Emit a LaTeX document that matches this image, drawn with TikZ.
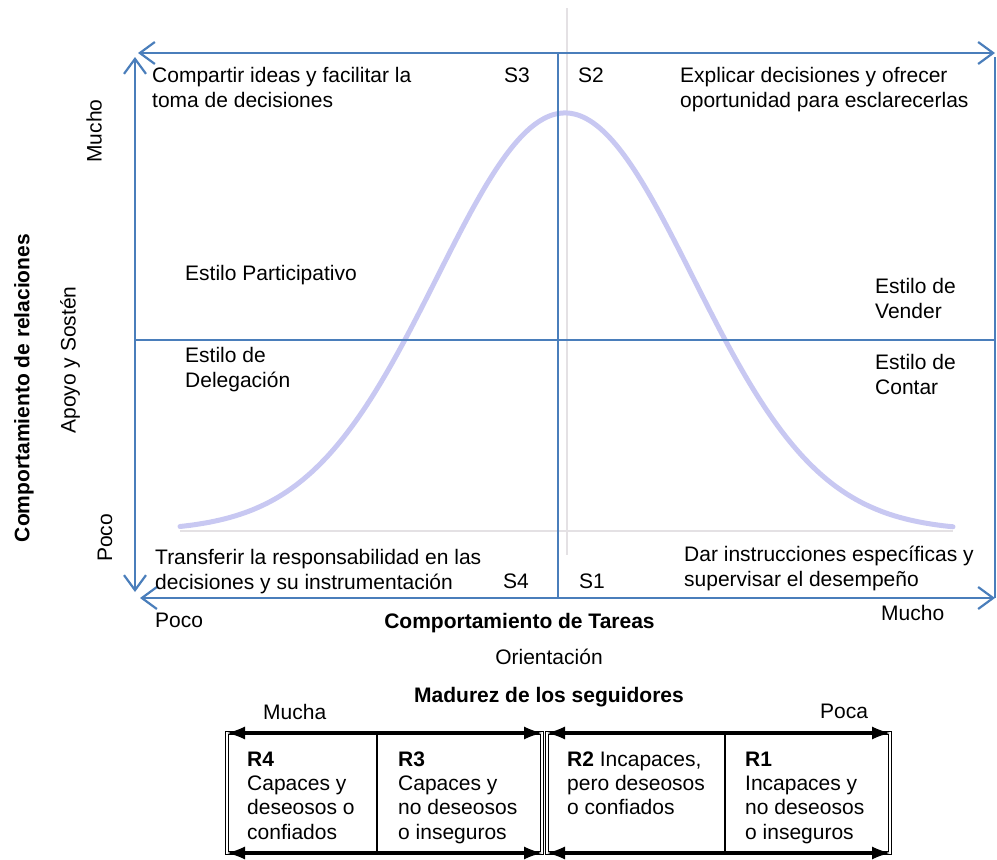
\documentclass[tikz,border=0pt]{standalone}
\usepackage{fontspec}
\setmainfont{Liberation Sans}
\usetikzlibrary{arrows.meta}
\definecolor{axisblue}{RGB}{74,126,187}
\definecolor{bellc}{RGB}{200,200,242}
\definecolor{guide}{RGB}{228,225,228}
\begin{document}
\begin{tikzpicture}[x=1pt,y=-1pt,
  txt/.style={inner sep=0pt, anchor=base west, align=left, font=\fontsize{21}{25}\selectfont},
  ctxt/.style={inner sep=0pt, anchor=base, font=\fontsize{21}{25}\selectfont},
  vtxt/.style={inner sep=0pt, rotate=90, anchor=center, font=\fontsize{21}{25}\selectfont},
  cell/.style={inner sep=0pt, anchor=base west, align=left, font=\fontsize{21}{24.3}\selectfont},
  axis/.style={draw=axisblue, line width=2.2pt},
  biaxis/.style={axis, {Straight Barb[length=15pt,width=22pt]}-{Straight Barb[length=15pt,width=22pt]}},
  guideline/.style={draw=guide, line width=2.4pt},
  dbl/.style={draw=black, double=white, line width=0.8pt, double distance=1.8pt},
  divider/.style={draw=black, line width=1.2pt},
  tarrow/.style={draw=black, line width=1.6pt, {Latex[length=18pt,width=13pt]}-{Latex[length=18pt,width=13pt]}}
]
\useasboundingbox (0,0) rectangle (997,860);

% coordinates of the chart frame
\coordinate (tl) at (138,53);
\coordinate (tr) at (995,53);
\coordinate (lu) at (135,57);
\coordinate (ld) at (135,592);
\coordinate (bl) at (140,598);
\coordinate (br) at (995,598);
\coordinate (ru) at (995,57);
\coordinate (rd) at (995,598);
\coordinate (mt) at (558,53);
\coordinate (mb) at (558,598);
\coordinate (hl) at (135,340);
\coordinate (hr) at (995,340);
\coordinate (gt) at (567,8);
\coordinate (gb) at (567,555);
\coordinate (gl) at (180,531);
\coordinate (gr) at (953,531);

% faint guide lines
\draw[guideline] (gt) -- (gb);
\draw[guideline] (gl) -- (gr);

% bell curve
\draw[bellc, line width=5pt, line cap=round] plot[domain=180:953, samples=160, smooth]
  (\x, {531 - 418*exp(-0.5*((\x-565)/128)^2)});

% blue axes
\draw[axis] (mt) -- (mb);
\draw[axis] (hl) -- (hr);
\draw[axis] (ru) -- (rd);
\draw[biaxis] (tl) -- (tr);
\draw[biaxis] (lu) -- (ld);
\draw[biaxis] (bl) -- (br);

% quadrant texts (base = baseline of last line)
\node[txt] (q3) at (152,107) {Compartir ideas y facilitar la\\toma de decisiones};
\node[txt] (s3) at (504,82) {S3};
\node[txt] (s2) at (578,82) {S2};
\node[txt] (q2) at (680,107) {Explicar decisiones y ofrecer\\oportunidad para esclarecerlas};
\node[txt] (ep) at (185,280) {Estilo Participativo};
\node[txt] (ev) at (875,318) {Estilo de\\Vender};
\node[txt] (ed) at (185,387) {Estilo de\\Delegación};
\node[txt] (ec) at (875,394) {Estilo de\\Contar};
\node[txt] (q4) at (155,589) {Transferir la responsabilidad en las\\decisiones y su instrumentación};
\node[txt] (s4) at (503,588) {S4};
\node[txt] (s1) at (579,588) {S1};
\node[txt] (q1) at (684,586) {Dar instrucciones específicas y\\supervisar el desempeño};

% axis labels
\node[txt] (xpoco) at (155,627) {Poco};
\node[txt] (xmucho) at (881,620) {Mucho};
\node[ctxt, font=\fontsize{21}{25}\selectfont\bfseries] (xtitle) at (519.5,628) {Comportamiento de Tareas};
\node[ctxt] (xsub) at (549,664) {Orientación};
\node[vtxt] (ymucho) at (94,131) {Mucho};
\node[vtxt, font=\fontsize{21}{25}\selectfont\bfseries] (ytitle) at (24,388) {Comportamiento de relaciones};
\node[vtxt] (ysub) at (70,360) {Apoyo y Sostén};
\node[vtxt] (ypoco) at (105,538) {Poco};

% maturity table
\node[ctxt, font=\fontsize{21}{25}\selectfont\bfseries] (mtitle) at (549,702) {Madurez de los seguidores};
\node[txt] (mucha) at (263,719) {Mucha};
\node[txt] (poca) at (820,718) {Poca};

\coordinate (a1) at (227,733);
\coordinate (a2) at (542,733);
\coordinate (a3) at (547,733);
\coordinate (a4) at (890,733);
\coordinate (b1) at (227,853);
\coordinate (b2) at (542,853);
\coordinate (b3) at (547,853);
\coordinate (b4) at (890,853);
\coordinate (d1t) at (377,733);
\coordinate (d1b) at (377,853);
\coordinate (d2t) at (725,733);
\coordinate (d2b) at (725,853);

\draw[dbl] (a1) rectangle (b2);
\draw[dbl] (a3) rectangle (b4);
\draw[divider] (d1t) -- (d1b);
\draw[divider] (d2t) -- (d2b);
\draw[tarrow] (a1) -- (a2);
\draw[tarrow] (b1) -- (b2);
\draw[tarrow] (a3) -- (a4);
\draw[tarrow] (b3) -- (b4);

\node[cell] (r4) at (247,839) {\textbf{R4}\\Capaces y\\deseosos o\\confiados};
\node[cell] (r3) at (398,839) {\textbf{R3}\\Capaces y\\no deseosos\\o inseguros};
\node[cell] (r2) at (567,814.6) {\textbf{R2} Incapaces,\\pero deseosos\\o confiados};
\node[cell] (r1) at (745,839) {\textbf{R1}\\Incapaces y\\no deseosos\\o inseguros};
\end{tikzpicture}
\end{document}
